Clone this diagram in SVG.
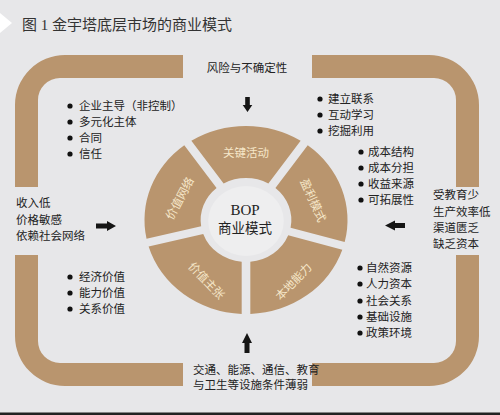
<svg xmlns="http://www.w3.org/2000/svg" width="500" height="415" viewBox="0 0 500 415">
<defs>
<style>
.bg{fill:#e7e7e9}
.band{fill:#b9956e}
.seg{fill:#b9956e}
.t{font-family:"Noto Sans CJK SC",sans-serif;fill:#222;font-size:11.5px}
.lab{font-family:"Noto Sans CJK SC",sans-serif;fill:#f6e7c9;font-size:11.5px;text-anchor:middle;dominant-baseline:central}
.dot{fill:#111}
.arr{fill:#151515}
</style>
</defs>
<rect class="bg" x="0" y="0" width="500" height="415"/>
<polygon points="0,13 12,23 0,33" fill="#ffffff"/>
<text x="22" y="30" font-family="'Liberation Serif','Noto Sans CJK SC',serif" font-size="15" fill="#333">图 1 金宇塔底层市场的商业模式</text>
<rect x="0" y="412.5" width="500" height="2.5" fill="#222"/>

<g id="frame">
<path class="band" d="M183,55 L65,55 A50,50 0 0 0 15,105 L15,187 L38,187 L38,100 A22,22 0 0 1 60,78 L183,78 Z"/>
<path class="band" d="M312,55 L429,55 A50,50 0 0 1 479,105 L479,187 L456,187 L456,100 A22,22 0 0 0 434,78 L312,78 Z"/>
<path class="band" d="M15,255 L38,255 L38,341 A22,22 0 0 0 60,363 L183,363 L183,386 L65,386 A50,50 0 0 1 15,336 Z"/>
<path class="band" d="M479,255 L456,255 L456,341 A22,22 0 0 1 434,363 L312,363 L312,386 L429,386 A50,50 0 0 0 479,336 Z"/>
</g>

<g id="wheel">
<g transform="translate(246 220) scale(1.08 1)">
<path id="seg-key" class="seg" d="M-50.60,-79.22 A94,94 0 0 1 50.60,-79.22 L20.71,-36.54 A42,42 0 0 0 -20.71,-36.54 Z"/>
<path id="seg-profit" class="seg" d="M57.16,-74.63 A94,94 0 0 1 91.38,22.04 L41.29,7.68 A42,42 0 0 0 27.25,-31.96 Z"/>
<path id="seg-local" class="seg" d="M89.18,29.73 A94,94 0 0 1 4.00,93.91 L4.00,41.81 A42,42 0 0 0 39.09,15.37 Z"/>
<path id="seg-value" class="seg" d="M-4.00,93.91 A94,94 0 0 1 -90.16,26.60 L-39.60,13.99 A42,42 0 0 0 -4.00,41.81 Z"/>
<path id="seg-network" class="seg" d="M-92.09,18.84 A94,94 0 0 1 -57.15,-74.63 L-27.25,-31.96 A42,42 0 0 0 -41.53,6.24 Z"/>
<circle cx="0" cy="1" r="35" fill="#eeeeef"/>
</g>
</g>

<g id="node-key"><text class="lab" x="246" y="152">关键活动</text></g>
<g id="node-profit"><text class="lab" transform="translate(314 200) rotate(66)">盈利模式</text></g>
<g id="node-local"><text class="lab" transform="translate(293 281) rotate(-46)">本地能力</text></g>
<g id="node-value"><text class="lab" transform="translate(207 280) rotate(46)">价值主张</text></g>
<g id="node-network"><text class="lab" transform="translate(179 198) rotate(-62)">价值网络</text></g>
<g id="node-center">
<text x="245" y="215" font-family="'Liberation Serif',serif" font-size="15" fill="#222" text-anchor="middle">BOP</text>
<text x="245" y="233" font-family="'Noto Sans CJK SC',sans-serif" font-size="13.5" fill="#222" text-anchor="middle">商业模式</text>
</g>

<g id="node-risk"><text class="t" x="247" y="72" text-anchor="middle">风险与不确定性</text></g>
<g id="node-left">
<text class="t" x="16" y="207" font-size="12">收入低</text>
<text class="t" x="16" y="224" font-size="12">价格敏感</text>
<text class="t" x="16" y="240" font-size="12">依赖社会网络</text>
</g>
<g id="node-right">
<text class="t" x="433" y="199">受教育少</text>
<text class="t" x="433" y="216">生产效率低</text>
<text class="t" x="433" y="232">渠道匮乏</text>
<text class="t" x="433" y="248">缺乏资本</text>
</g>
<g id="node-bottom">
<text class="t" x="193" y="374" font-size="10">交通、能源、通信、教育</text>
<text class="t" x="193" y="389" font-size="10">与卫生等设施条件薄弱</text>
</g>

<g id="list-network">
<circle class="dot" cx="70" cy="106" r="2.6"/><text class="t" x="79" y="110">企业主导（非控制）</text>
<circle class="dot" cx="70" cy="122" r="2.6"/><text class="t" x="79" y="126">多元化主体</text>
<circle class="dot" cx="70" cy="138" r="2.6"/><text class="t" x="79" y="142">合同</text>
<circle class="dot" cx="70" cy="154" r="2.6"/><text class="t" x="79" y="158">信任</text>
</g>
<g id="list-key">
<circle class="dot" cx="320" cy="99" r="2.6"/><text class="t" x="328" y="103">建立联系</text>
<circle class="dot" cx="320" cy="115" r="2.6"/><text class="t" x="328" y="119">互动学习</text>
<circle class="dot" cx="320" cy="131" r="2.6"/><text class="t" x="328" y="135">挖掘利用</text>
</g>
<g id="list-profit">
<circle class="dot" cx="361" cy="152" r="2.6"/><text class="t" x="368" y="156">成本结构</text>
<circle class="dot" cx="361" cy="168" r="2.6"/><text class="t" x="368" y="172">成本分担</text>
<circle class="dot" cx="361" cy="184" r="2.6"/><text class="t" x="368" y="188">收益来源</text>
<circle class="dot" cx="361" cy="200" r="2.6"/><text class="t" x="368" y="204">可拓展性</text>
</g>
<g id="list-value">
<circle class="dot" cx="70" cy="277" r="2.6"/><text class="t" x="79" y="281">经济价值</text>
<circle class="dot" cx="70" cy="293" r="2.6"/><text class="t" x="79" y="297">能力价值</text>
<circle class="dot" cx="70" cy="309" r="2.6"/><text class="t" x="79" y="313">关系价值</text>
</g>
<g id="list-local">
<circle class="dot" cx="360" cy="268" r="2.6"/><text class="t" x="366" y="272">自然资源</text>
<circle class="dot" cx="360" cy="284" r="2.6"/><text class="t" x="366" y="288">人力资本</text>
<circle class="dot" cx="360" cy="301" r="2.6"/><text class="t" x="366" y="305">社会关系</text>
<circle class="dot" cx="360" cy="317" r="2.6"/><text class="t" x="366" y="321">基础设施</text>
<circle class="dot" cx="360" cy="333" r="2.6"/><text class="t" x="366" y="337">政策环境</text>
</g>

<g id="connectors">
<polygon class="arr" points="245.2,97 249.8,97 249.8,105 252.3,105 247.5,112 242.7,105 245.2,105"/>
<polygon class="arr" points="244.5,353 249.5,353 249.5,343 252,343 247,333 242,343 244.5,343"/>
<polygon class="arr" points="96,223.5 107,223.5 107,221 116,226 107,231 107,228.5 96,228.5"/>
<polygon class="arr" points="405,223 395,223 395,220.5 385,225.5 395,230.5 395,228 405,228"/>
</g>
</svg>
